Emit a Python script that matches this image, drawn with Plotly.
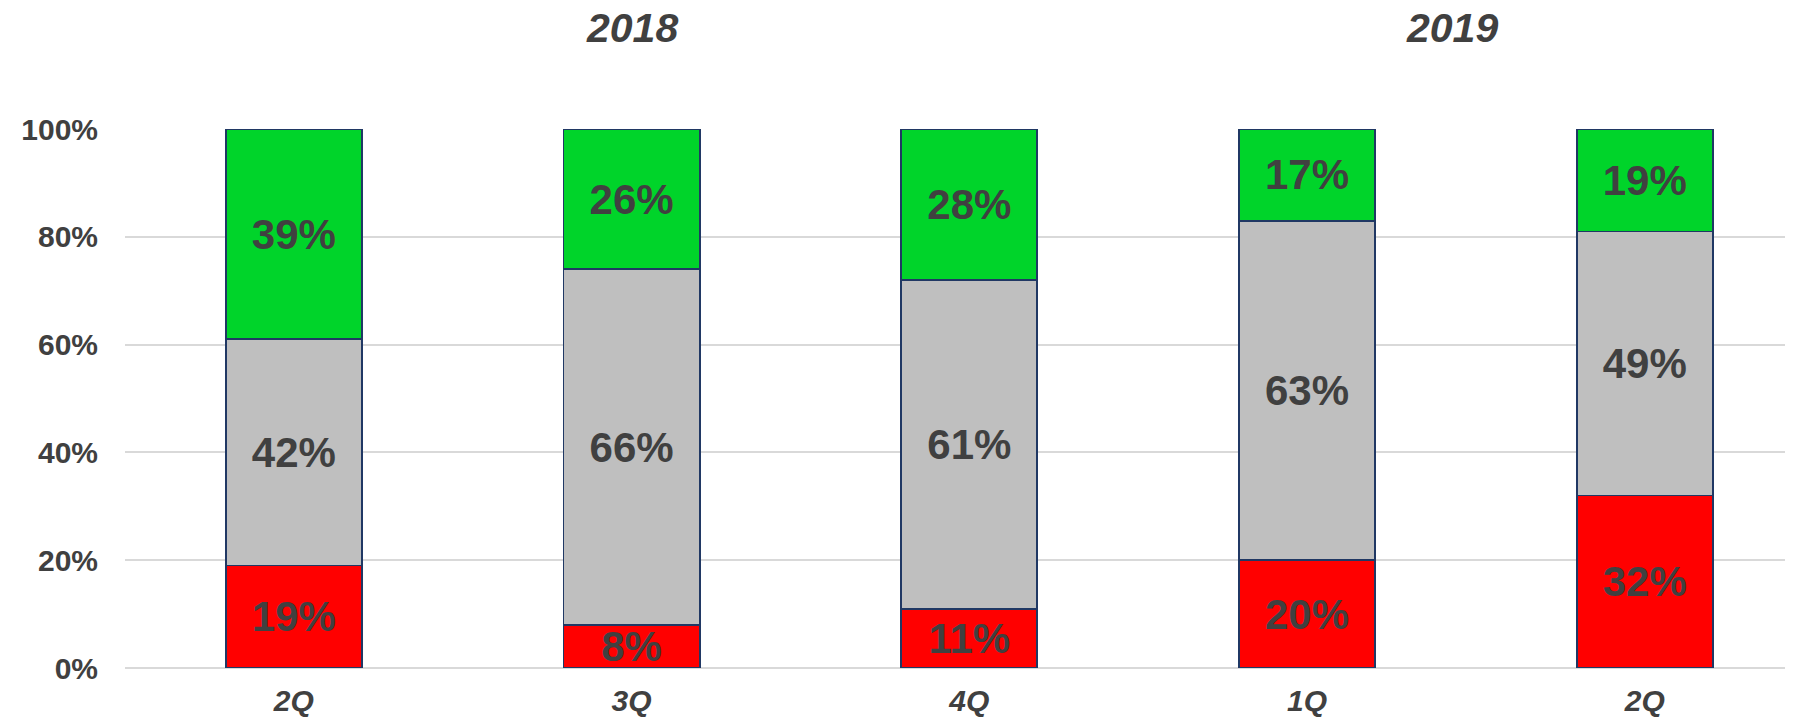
import plotly.graph_objects as go

quarters = ["2Q", "3Q", "4Q", "1Q", "2Q"]
years = ["2018", "2019"]
red_vals = [19, 8, 11, 20, 32]
grey_vals = [42, 66, 61, 63, 49]
green_vals = [39, 26, 28, 17, 19]
y_ticks = [0, 20, 40, 60, 80, 100]
y_tick_labels = ["0%", "20%", "40%", "60%", "80%", "100%"]

FONT = "Liberation Sans, Arial, sans-serif"
TXT = "#404040"
x_pos = list(range(len(quarters)))

fig = go.Figure()
for vals, col in [(red_vals, "#FF0000"), (grey_vals, "#BFBFBF"), (green_vals, "#00D42A")]:
    fig.add_trace(go.Bar(
        x=x_pos, y=vals, marker=dict(color=col, line=dict(color="#203864", width=1.8)),
        width=0.403, text=[f"{v}%" for v in vals], textposition="inside",
        insidetextanchor="middle", textangle=0,
        textfont=dict(family=FONT, size=42, color=TXT, weight="bold"),
        showlegend=False, hoverinfo="skip",
    ))

fig.update_layout(
    barmode="stack", width=1785, height=713,
    margin=dict(l=117, r=0, t=121, b=53),
    plot_bgcolor="white", paper_bgcolor="white",
    uniformtext=dict(minsize=42, mode="show"),
    xaxis=dict(range=[-0.5, 4.439], tickmode="array", tickvals=x_pos, ticktext=quarters,
               showgrid=False, zeroline=False, showline=False, ticks="",
               ticklabelstandoff=12,
               tickfont=dict(family=FONT, size=30, color=TXT, weight="bold", style="italic")),
    yaxis=dict(range=[0, 100], tickmode="array", tickvals=y_ticks, ticktext=y_tick_labels,
               showgrid=True, gridcolor="#D9D9D9", gridwidth=1.5,
               zeroline=True, zerolinecolor="#D9D9D9", zerolinewidth=1.5,
               showline=False, ticks="", ticklabelstandoff=26,
               tickfont=dict(family=FONT, size=30, color=TXT, weight="bold")),
)

for yr, xp in zip(years, [1, 3.43]):
    fig.add_annotation(text=yr, x=xp, xref="x", y=1.188, yref="paper",
                       showarrow=False, yanchor="middle", xanchor="center",
                       font=dict(family=FONT, size=41, color=TXT, weight="bold", style="italic"))

fig.write_html("out.html")
